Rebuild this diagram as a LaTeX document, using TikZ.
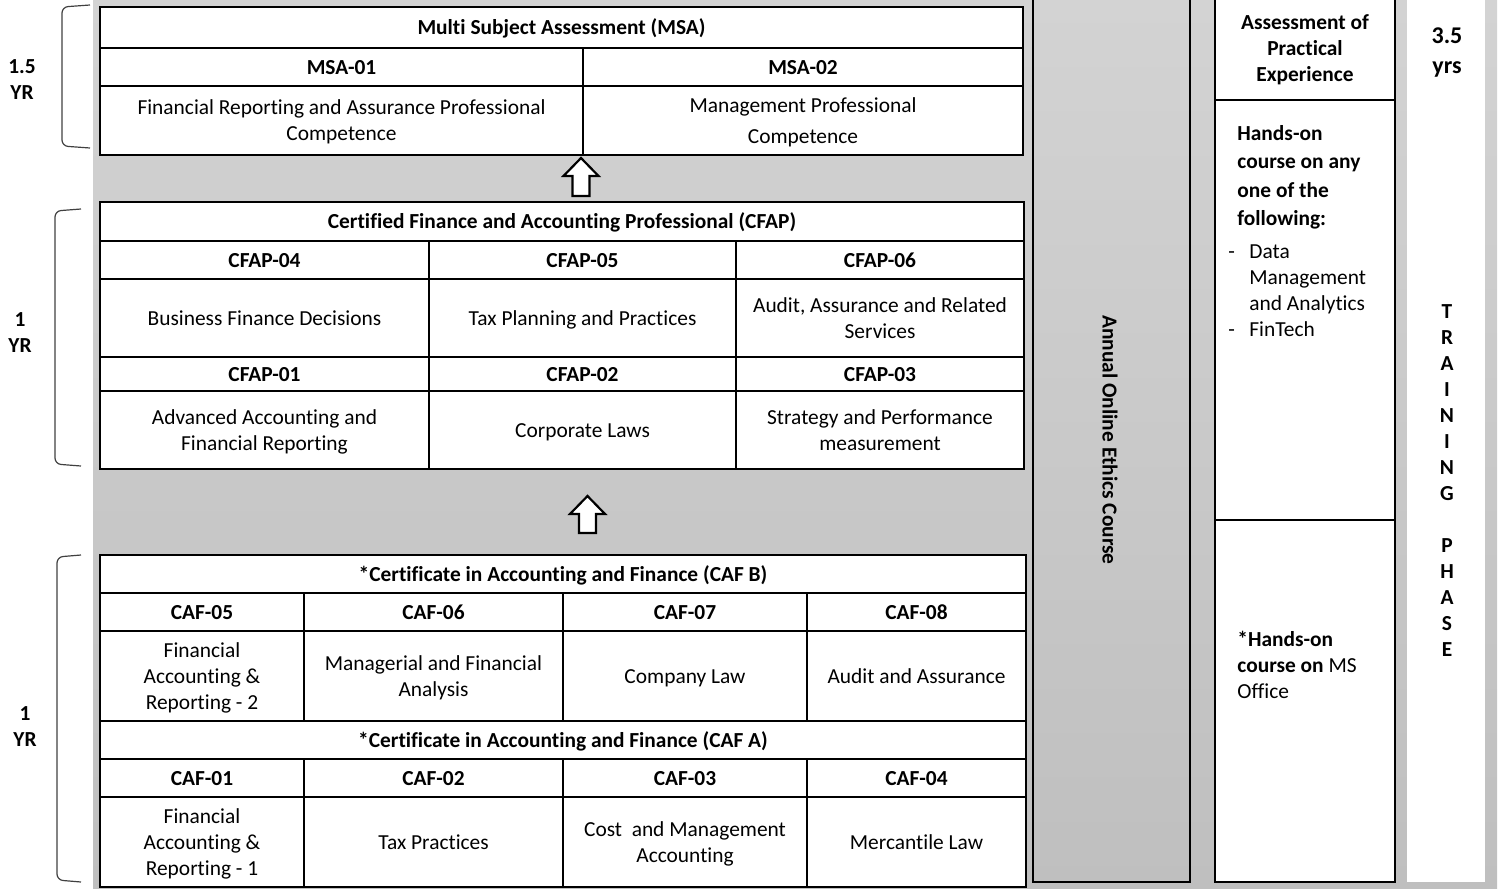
\documentclass[tikz,border=0pt]{standalone}
\usepackage{fontspec}
\setmainfont[Ligatures=NoCommon]{Carlito}
\usetikzlibrary{calc}
\definecolor{bgtop}{HTML}{D3D3D3}
\definecolor{bgbot}{HTML}{BFBFBF}
\newcommand{\fs}{\fontsize{10.7}{13}\selectfont}
\newcommand{\cstrut}{\rule[-2.9pt]{0pt}{13pt}}
\tikzset{
  tcell/.style={draw=black, line width=1.2pt, fill=white, inner sep=0pt, outer sep=0pt,
    align=center, font=\fs},
  codecell/.style={font=\fs\bfseries},
  colbox/.style={draw=black, line width=1pt, inner sep=0pt, outer sep=0pt},
  hollow/.style={draw=black, line width=1.1pt, fill=white, line join=miter},
  brk/.style={draw=black!75, line width=0.6pt, rounded corners=3pt},
  lbl/.style={font=\fs\bfseries, align=center, inner sep=0pt},
  ptext/.style={inner sep=0pt, align=left, anchor=north west},
}
\newcommand{\tcell}[7]{%
  \node[tcell,#7,minimum width={(#4-#2)*0.5pt},minimum height={(#5-#3)*0.5pt}]
    (#1) at ({(#2+#4)/2},{(#3+#5)/2}) {\cstrut #6\cstrut};}
\newcommand{\hollowup}[4]{% name, cx, ytip, ybottom
  \coordinate (#1) at (#2,#3);
  \draw[hollow] (#1) -- ($(#1)+(17.5,18)$) -- ($(#1)+(8.5,18)$) -- ($(#1)+(8.5,#4-#3)$)
    -- ($(#1)+(-8.5,#4-#3)$) -- ($(#1)+(-8.5,18)$) -- ($(#1)+(-17.5,18)$) -- cycle;}
\begin{document}
\begin{tikzpicture}[x=0.5pt,y=-0.5pt]
\useasboundingbox (0,0) rectangle (1502,888);
\shade[top color=bgtop,bottom color=bgbot] (93,0) rectangle (1497,888);

% ---------- MSA ----------
\tcell{msa}{100}{7}{1023}{48}{Multi Subject Assessment (MSA)}{codecell}
\tcell{msa01c}{100}{48}{583}{86}{MSA-01}{codecell}
\tcell{msa02c}{583}{48}{1023}{86}{MSA-02}{codecell}
\tcell{msa01d}{100}{86}{583}{155}{Financial Reporting and Assurance Professional\\Competence}{}
\tcell{msa02d}{583}{86}{1023}{155}{Management Professional\\[2.5pt]Competence}{}

% ---------- CFAP ----------
\tcell{cfap}{100}{202}{1024}{241}{Certified Finance and Accounting Professional (CFAP)}{codecell}
\tcell{cfap04c}{100}{241}{429}{279}{CFAP-04}{codecell}
\tcell{cfap05c}{429}{241}{736}{279}{CFAP-05}{codecell}
\tcell{cfap06c}{736}{241}{1024}{279}{CFAP-06}{codecell}
\tcell{cfap04d}{100}{279}{429}{357}{Business Finance Decisions}{}
\tcell{cfap05d}{429}{279}{736}{357}{Tax Planning and Practices}{}
\tcell{cfap06d}{736}{279}{1024}{357}{Audit, Assurance and Related\\Services}{}
\tcell{cfap01c}{100}{357}{429}{391}{CFAP-01}{codecell}
\tcell{cfap02c}{429}{357}{736}{391}{CFAP-02}{codecell}
\tcell{cfap03c}{736}{357}{1024}{391}{CFAP-03}{codecell}
\tcell{cfap01d}{100}{391}{429}{469}{Advanced Accounting and\\Financial Reporting}{}
\tcell{cfap02d}{429}{391}{736}{469}{Corporate Laws}{}
\tcell{cfap03d}{736}{391}{1024}{469}{Strategy and Performance\\measurement}{}

% ---------- CAF ----------
\tcell{cafb}{100}{555}{1026}{593}{*Certificate in Accounting and Finance (CAF B)}{codecell}
\tcell{caf05c}{100}{593}{304}{631}{CAF-05}{codecell}
\tcell{caf06c}{304}{593}{563}{631}{CAF-06}{codecell}
\tcell{caf07c}{563}{593}{807}{631}{CAF-07}{codecell}
\tcell{caf08c}{807}{593}{1026}{631}{CAF-08}{codecell}
\tcell{caf05d}{100}{631}{304}{721}{Financial\\Accounting \&\\Reporting - 2}{}
\tcell{caf06d}{304}{631}{563}{721}{Managerial and Financial\\Analysis}{}
\tcell{caf07d}{563}{631}{807}{721}{Company Law}{}
\tcell{caf08d}{807}{631}{1026}{721}{Audit and Assurance}{}
\tcell{cafa}{100}{721}{1026}{759}{*Certificate in Accounting and Finance (CAF A)}{codecell}
\tcell{caf01c}{100}{759}{304}{797}{CAF-01}{codecell}
\tcell{caf02c}{304}{759}{563}{797}{CAF-02}{codecell}
\tcell{caf03c}{563}{759}{807}{797}{CAF-03}{codecell}
\tcell{caf04c}{807}{759}{1026}{797}{CAF-04}{codecell}
\tcell{caf01d}{100}{797}{304}{887}{Financial\\Accounting \&\\Reporting - 1}{}
\tcell{caf02d}{304}{797}{563}{887}{Tax Practices}{}
\tcell{caf03d}{563}{797}{807}{887}{Cost~ and Management\\Accounting}{}
\tcell{caf04d}{807}{797}{1026}{887}{Mercantile Law}{}

% ---------- progression arrows ----------
\hollowup{up1}{581}{158}{196}
\hollowup{up2}{587.5}{496}{533}

% ---------- ethics column ----------
\node[colbox, minimum width={157*0.5pt}, minimum height={887*0.5pt}] (ethics) at (1111.5,438.5) {};
\node[lbl, rotate=-90] (ethicstxt) at (1110,440) {Annual Online Ethics Course};

% ---------- practical experience column ----------
\node[colbox, fill=white, minimum width={180*0.5pt}, minimum height={105*0.5pt}] (ape) at (1305,47.5) {};
\node[colbox, fill=white, minimum width={180*0.5pt}, minimum height={420*0.5pt}] (handsbox) at (1305,310) {};
\node[colbox, fill=white, minimum width={180*0.5pt}, minimum height={362*0.5pt}] (msbox) at (1305,701) {};
\node[lbl] (apetxt) at (1305,50) {Assessment of\\Practical\\Experience};
\node[ptext, font=\fontsize{10.7}{14.2}\selectfont\bfseries] (handstxt) at (1237,125) {Hands-on\\course on any\\one of the\\following:};
\node[ptext, font=\fs] (listtxt) at (1228,244)
  {\makebox[10.5pt][l]{-}Data\\\makebox[10.5pt]{}Management\\\makebox[10.5pt]{}and Analytics\\\makebox[10.5pt][l]{-}FinTech};
\node[ptext, font=\fs] (mstxt) at (1237,631)
  {\textbf{*Hands-on}\\\textbf{course on} MS\\Office};

% ---------- training phase column ----------
\node[fill=white, inner sep=0pt, minimum width={78*0.5pt}, minimum height={887*0.5pt}] (train) at (1446,438.5) {};
\node[lbl, font=\fontsize{12}{15}\selectfont\bfseries] (yrs) at (1447,53) {3.5\\yrs};
\node[lbl] (phase) at (1447,481) {T\\R\\A\\I\\N\\I\\N\\G\\[13pt]P\\H\\A\\S\\E};

% ---------- duration brackets ----------
\draw[brk] (90,5) -- (62,7) -- (62,146) -- (90,148);
\draw[brk] (81,209) -- (55,211) -- (55,464) -- (81,466);
\draw[brk] (81,555) -- (57,557) -- (57,880) -- (81,882);
\node[lbl] (d1) at (22,80) {1.5\\YR};
\node[lbl] (d2) at (20,333) {1\\YR};
\node[lbl] (d3) at (25,727) {1\\YR};
\end{tikzpicture}
\end{document}
